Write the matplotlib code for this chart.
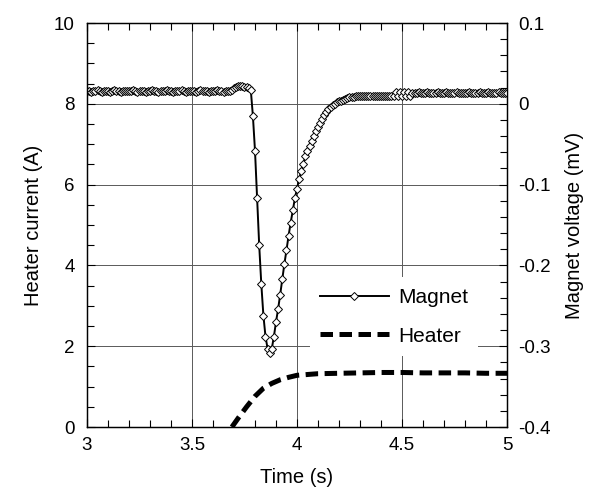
import matplotlib.pyplot as plt
from matplotlib.ticker import MultipleLocator
import numpy as np

plt.rcParams['font.family'] = ['Liberation Sans', 'DejaVu Sans']

# magnet voltage (mV), sampled every 10 ms from 3.00 s to 5.00 s
magnet_t = np.round(np.arange(300, 501) / 100.0, 2)
magnet_v = [
    0.016, 0.016, 0.015, 0.016, 0.016, 0.017, 0.016, 0.015, 0.016, 0.016,   # 3.00
    0.016, 0.015, 0.016, 0.017, 0.016, 0.016, 0.015, 0.016, 0.016, 0.016,   # 3.10
    0.016, 0.016, 0.017, 0.016, 0.015, 0.016, 0.016, 0.016, 0.015, 0.016,   # 3.20
    0.016, 0.017, 0.016, 0.016, 0.015, 0.016, 0.016, 0.016, 0.017, 0.016,   # 3.30
    0.016, 0.015, 0.016, 0.016, 0.016, 0.017, 0.016, 0.015, 0.016, 0.016,   # 3.40
    0.016, 0.016, 0.015, 0.016, 0.017, 0.016, 0.016, 0.016, 0.015, 0.016,   # 3.50
    0.016, 0.016, 0.017, 0.016, 0.016, 0.015, 0.016, 0.016, 0.016, 0.017,   # 3.60
    0.019, 0.021, 0.022, 0.022, 0.022, 0.021, 0.021, 0.020, 0.017, -0.015,  # 3.70
    -0.058, -0.117, -0.175, -0.223, -0.262, -0.288, -0.303, -0.308, -0.303, -0.288,  # 3.80
    -0.270, -0.254, -0.236, -0.217, -0.198, -0.181, -0.163, -0.147, -0.132, -0.117,  # 3.90
    -0.105, -0.093, -0.083, -0.074, -0.065, -0.058, -0.052, -0.046, -0.040, -0.034,  # 4.00
    -0.029, -0.024, -0.019, -0.014, -0.010, -0.007, -0.004, -0.002, 0.000, 0.002,    # 4.10
    0.003, 0.004, 0.005, 0.006, 0.007, 0.008, 0.009, 0.009, 0.010, 0.010,   # 4.20
    0.010, 0.010, 0.010, 0.010, 0.010, 0.010, 0.010, 0.010, 0.010, 0.010,   # 4.30
    0.010, 0.010, 0.010, 0.010, 0.010, 0.010, 0.010, 0.015, 0.010, 0.015,   # 4.40
    0.010, 0.015, 0.010, 0.015, 0.010, 0.014, 0.014, 0.014, 0.015, 0.014,   # 4.50
    0.014, 0.014, 0.015, 0.014, 0.014, 0.014, 0.014, 0.015, 0.014, 0.014,   # 4.60
    0.014, 0.015, 0.014, 0.014, 0.014, 0.014, 0.015, 0.014, 0.014, 0.014,   # 4.70
    0.014, 0.014, 0.015, 0.014, 0.014, 0.014, 0.014, 0.015, 0.014, 0.014,   # 4.80
    0.014, 0.015, 0.014, 0.014, 0.014, 0.014, 0.015, 0.014, 0.014, 0.014,   # 4.90
    0.014,
]

# heater current (A)
heater_t = [3.69, 3.72, 3.76, 3.80, 3.84, 3.88, 3.92, 3.96, 4.00, 4.05,
            4.10, 4.20, 4.30, 4.40, 4.50, 4.60, 4.70, 4.80, 4.90, 5.00]
heater_i = [0.0, 0.22, 0.50, 0.76, 0.96, 1.08, 1.17, 1.23, 1.28, 1.30,
            1.32, 1.33, 1.34, 1.35, 1.35, 1.34, 1.34, 1.34, 1.33, 1.33]

fig = plt.figure(figsize=(5.98, 4.97), dpi=100)
ax1 = fig.add_axes([0.1455, 0.1408, 0.7023, 0.8129])
ax2 = ax1.twinx()

# heater on the left axis
heater_line, = ax1.plot(heater_t, heater_i, color='black', lw=3.6,
                        dashes=(2.5, 1.3), dash_capstyle='butt', label='Heater')
ax1.set_xlim(3, 5)
ax1.set_ylim(0, 10)
ax1.xaxis.set_major_locator(MultipleLocator(0.5))
ax1.xaxis.set_minor_locator(MultipleLocator(0.1))
ax1.yaxis.set_major_locator(MultipleLocator(2))
ax1.yaxis.set_minor_locator(MultipleLocator(0.5))
ax1.set_xticks([3, 3.5, 4, 4.5, 5])
ax1.set_xticklabels(['3', '3.5', '4', '4.5', '5'])
ax1.grid(True, which='major', color='0.35', lw=0.7)
ax1.tick_params(which='both', direction='in', top=True, right=False,
                labelsize=13.5, width=0.8)
ax1.tick_params(which='major', length=6)
ax1.tick_params(which='minor', length=5)
ax1.tick_params(axis='y', pad=9)
ax1.tick_params(axis='x', pad=7)
ax1.set_xlabel('Time (s)', fontsize=14.5, labelpad=10)
ax1.set_ylabel('Heater current (A)', fontsize=14.5, labelpad=8)

# magnet on the right axis
magnet_line, = ax2.plot(magnet_t, magnet_v, color='black', lw=1.4,
                        marker='D', ms=3.6, mfc='white', mec='black', mew=0.7,
                        label='Magnet')
ax2.set_ylim(-0.4, 0.1)
ax2.yaxis.set_major_locator(MultipleLocator(0.1))
ax2.yaxis.set_minor_locator(MultipleLocator(0.02))
ax2.set_yticks([-0.4, -0.3, -0.2, -0.1, 0, 0.1])
ax2.set_yticklabels(['-0.4', '-0.3', '-0.2', '-0.1', '0', '0.1'])
ax2.tick_params(which='both', direction='in', labelsize=13.5, width=0.8, pad=8)
ax2.tick_params(which='major', length=6)
ax2.tick_params(which='minor', length=5)
ax2.set_ylabel('Magnet voltage (mV)', fontsize=14.5, labelpad=10)

for ax in (ax1, ax2):
    for s in ax.spines.values():
        s.set_linewidth(0.9)

leg = ax2.legend(handles=[magnet_line, heater_line], loc='lower left',
                 bbox_to_anchor=(0.505, 0.15), fontsize=15, frameon=True,
                 handlelength=3.3, handletextpad=0.45, labelspacing=0.95,
                 borderpad=0.5, fancybox=False)
leg.get_frame().set_edgecolor('none')
leg.get_frame().set_facecolor('white')
leg.get_frame().set_alpha(1)

fig.savefig('out.png', dpi=100)
